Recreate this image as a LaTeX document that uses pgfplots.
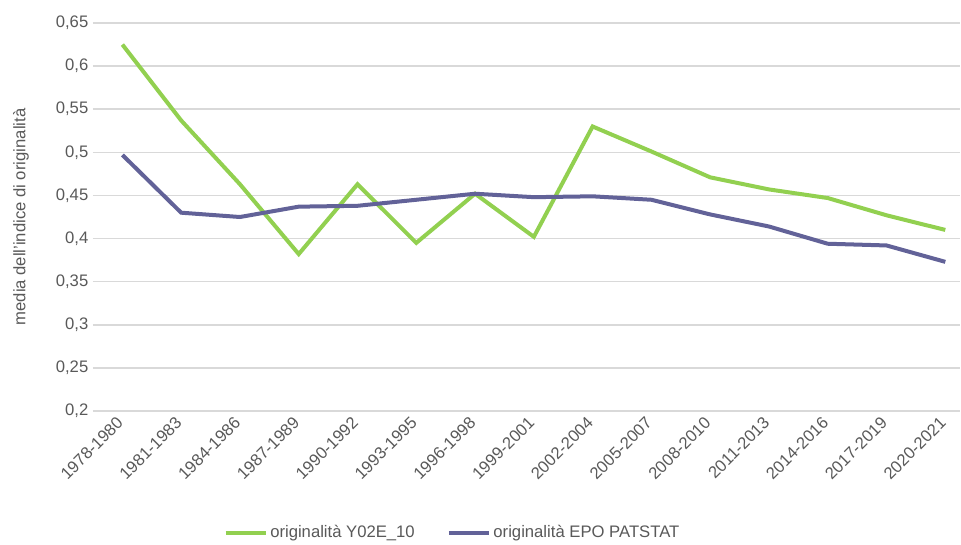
\documentclass[border=0pt]{standalone}
\usepackage{fontspec}
\setmainfont{Liberation Sans}
\usepackage{pgfplots}
\pgfplotsset{compat=1.18}

\definecolor{lgreen}{RGB}{146,208,80}
\definecolor{lpurple}{RGB}{98,98,152}
\definecolor{txtgray}{RGB}{89,89,89}
\definecolor{gridgray}{RGB}{217,217,217}

\begin{document}
\begin{tikzpicture}
\useasboundingbox (-69.75pt,-99.75pt) rectangle (651pt,308.25pt);
\begin{axis}[
    at={(0pt,0pt)}, anchor=south west,
    scale only axis,
    width=650.25pt, height=291pt,
    xmin=-0.5, xmax=14.25,
    ymin=0.2, ymax=0.65,
    ytick={0.2,0.25,0.3,0.35,0.4,0.45,0.5,0.55,0.6,0.65},
    xtick={0,...,14},
    xticklabels={1978-1980,1981-1983,1984-1986,1987-1989,1990-1992,1993-1995,1996-1998,1999-2001,2002-2004,2005-2007,2008-2010,2011-2013,2014-2016,2017-2019,2020-2021},
    xticklabel style={yshift=-6pt, xshift=-1pt, rotate=45, anchor=east,
      font=\fontsize{12.5}{14}\selectfont, text=txtgray, inner sep=1pt},
    yticklabel style={font=\fontsize{12.5}{14}\selectfont, text=txtgray},
    /pgf/number format/assume math mode=true,
    /pgf/number format/use comma,
    major tick length=0pt,
    axis line style={draw=none},
    ymajorgrids,
    grid style={gridgray, line width=1.2pt},
    ylabel={media dell'indice di originalità},
    ylabel style={at={(axis description cs:-0.083,0.5)}, anchor=center,
      font=\fontsize{12.5}{14}\selectfont, text=txtgray},
    legend columns=2,
    legend style={at={(axis description cs:0.415,-0.314)}, anchor=center, draw=none,
      font=\fontsize{12.5}{14}\selectfont, text=txtgray,
      /tikz/every even column/.append style={column sep=22pt}},
    legend image code/.code={\draw[#1] (0pt,0pt) -- (30pt,0pt);},
]
\addplot[lgreen, line width=3pt, mark=none] coordinates {
    (0,0.625) (1,0.537) (2,0.463) (3,0.382) (4,0.463)
    (5,0.395) (6,0.452) (7,0.402) (8,0.530) (9,0.501)
    (10,0.471) (11,0.457) (12,0.447) (13,0.427) (14,0.410)
};
\addlegendentry{originalità Y02E\_10}
\addplot[lpurple, line width=3pt, mark=none] coordinates {
    (0,0.497) (1,0.430) (2,0.425) (3,0.437) (4,0.438)
    (5,0.445) (6,0.452) (7,0.448) (8,0.449) (9,0.445)
    (10,0.428) (11,0.414) (12,0.394) (13,0.392) (14,0.373)
};
\addlegendentry{originalità EPO PATSTAT}
\end{axis}
\end{tikzpicture}
\end{document}
